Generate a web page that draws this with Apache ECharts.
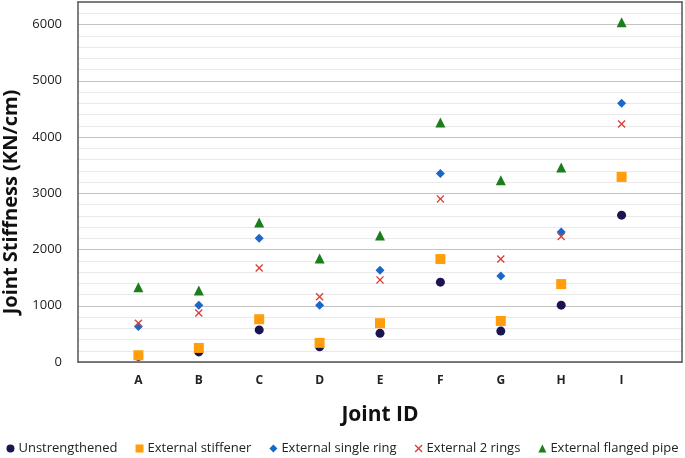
<!DOCTYPE html>
<html><head><meta charset="utf-8">
<script src="https://cdn.jsdelivr.net/npm/echarts@6/dist/echarts.min.js"></script>
<style>html,body{margin:0;padding:0;background:#fff}#c{width:685px;height:458px}</style>
</head><body><div id="c"></div>
<script>
const categories = ['A','B','C','D','E','F','G','H','I'];
const unstrengthened = [100,180,570,270,510,1420,550,1010,2610];
const externalStiffener = [120,250,760,340,690,1830,730,1385,3290];
const externalSingleRing = [630,1010,2200,1010,1630,3350,1530,2310,4600];
const external2Rings = [690,870,1670,1160,1460,2900,1830,2230,4230];
const externalFlangedPipe = [1330,1270,2480,1840,2250,4260,3230,3460,6040];
const seriesNames = ['Unstrengthened','External stiffener','External single ring','External 2 rings','External flanged pipe'];
const yTicks = [0,1000,2000,3000,4000,5000,6000];

const xPath = 'path://M0,1.2L1.2,0L5,3.8L8.8,0L10,1.2L6.2,5L10,8.8L8.8,10L5,6.2L1.2,10L0,8.8L3.8,5Z';
const styles = [
  {symbol:'circle', size:9, color:'#1a1450'},
  {symbol:'rect', size:10, color:'#ff9d0a'},
  {symbol:'diamond', size:9, color:'#1a66c9'},
  {symbol:xPath, size:8, color:'#d9403a'},
  {symbol:'triangle', size:10, color:'#1b7d1b'}
];
const datasets = [unstrengthened, externalStiffener, externalSingleRing, external2Rings, externalFlangedPipe];
const font = "'Open Sans', 'Noto Sans', sans-serif";
const frame = {show: true, onZero: false, lineStyle: {color: '#555', width: 1.5}};

const gridColors = [];
for (let i = 0; i < 5; i++) gridColors.push(i === 0 ? '#c4c4c4' : '#e9e9e9');

const chart = echarts.init(document.getElementById('c'));
chart.setOption({
  animation: false,
  textStyle: {fontFamily: font},
  grid: {left: 78, right: 3, top: 2, bottom: 96, containLabel: false, outerBoundsMode: 'none'},
  xAxis: [{
    type: 'value', min: 0, max: categories.length + 1, interval: 1,
    name: 'Joint ID', nameLocation: 'middle', nameGap: 43,
    nameTextStyle: {fontSize: 21, fontWeight: 'bold', color: '#111', fontFamily: font},
    axisLine: frame, axisTick: {show: false}, splitLine: {show: false},
    axisLabel: {margin: 13, fontSize: 12, fontWeight: 'bold', color: '#222', fontFamily: font,
      formatter: v => (v >= 1 && v <= categories.length) ? categories[v - 1] : ''}
  }, {
    type: 'value', position: 'top', min: 0, max: categories.length + 1,
    axisLine: frame, axisTick: {show: false}, axisLabel: {show: false}, splitLine: {show: false}
  }],
  yAxis: [{
    type: 'value', min: 0, max: 6400, interval: 200,
    name: 'Joint Stiffness (KN/cm)', nameLocation: 'middle', nameGap: 55,
    nameTextStyle: {fontSize: 20, fontWeight: 'bold', color: '#111', fontFamily: font, padding: [0, 40, 0, 0]},
    axisLine: frame, axisTick: {show: false},
    splitLine: {lineStyle: {color: gridColors, width: 1}},
    axisLabel: {fontSize: 13, color: '#222', margin: 16, fontFamily: font,
      formatter: v => yTicks.includes(v) ? String(v) : ''}
  }, {
    type: 'value', position: 'right', min: 0, max: 6400,
    axisLine: frame, axisTick: {show: false}, axisLabel: {show: false}, splitLine: {show: false}
  }],
  legend: {
    bottom: -2, left: 'center', itemGap: 18, itemWidth: 8, itemHeight: 8,
    textStyle: {fontSize: 13, color: '#222', fontFamily: font, padding: [0,0,0,-1]},
    data: seriesNames.map((n, i) => ({name: n, icon: styles[i].symbol}))
  },
  series: datasets.map((d, i) => ({
    name: seriesNames[i], type: 'scatter',
    symbol: styles[i].symbol, symbolSize: styles[i].size,
    itemStyle: {color: styles[i].color, opacity: 1},
    data: d.map((v, j) => [j + 1, v]),
    z: 2 + i
  }))
});
</script></body></html>
